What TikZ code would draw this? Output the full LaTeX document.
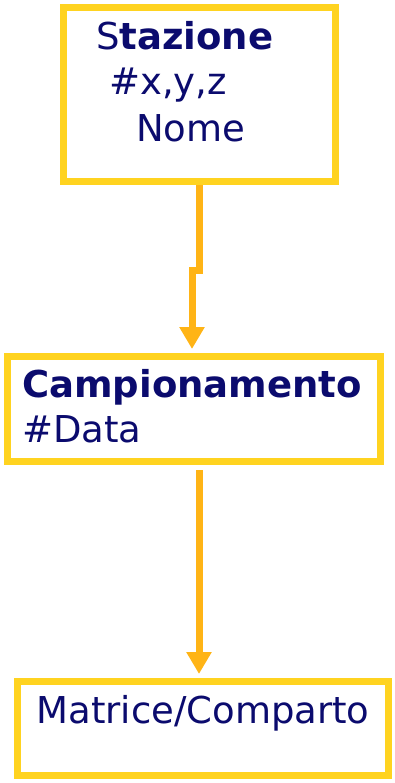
\documentclass[tikz,border=0pt]{standalone}
\usepackage{fontspec}
\setmainfont{DejaVu Sans}
\usetikzlibrary{arrows.meta}
\definecolor{boxyellow}{RGB}{255,211,32}
\definecolor{arroworange}{RGB}{255,180,22}
\definecolor{navy}{RGB}{11,11,110}
\tikzset{
  entity/.style={draw=boxyellow, line width=7pt, fill=white, inner sep=0pt, rectangle},
  label36/.style={text=navy, inner sep=0pt, font=\fontsize{37}{44}\selectfont},
  link/.style={draw=arroworange, line width=7pt, -{Triangle[length=22pt,width=24pt]}}
}
\begin{document}
\begin{tikzpicture}[x=1pt,y=-1pt]
\useasboundingbox (0,0) rectangle (394,783);
% boxes
\node[entity, minimum width=272pt, minimum height=174pt] (top) at (199,95) {};
\node[entity, minimum width=373pt, minimum height=105pt] (mid) at (193.5,408.5) {};
\node[entity, minimum width=371pt, minimum height=94pt] (bot) at (202.5,728) {};
% texts
\node[label36, anchor=base west] (t1) at (96,50) {S\textbf{tazione}};
\node[label36, anchor=base west] (t2) at (109,95) {\#x,y,z};
\node[label36, anchor=base west] (t3) at (136,142) {Nome};
\node[label36, anchor=base west] (m1) at (22,397) {\textbf{Campionamento}};
\node[label36, anchor=base west] (m2) at (22,442) {\#Data};
\node[label36, anchor=base] (b1) at (203,723) {Matrice/Comparto};
% connectors
\coordinate (j1) at (199,270);
\coordinate (j2) at (192,270);
\draw[link, shorten >=3.5pt] (top.south) -- (j1) -- (j2) -- (j2 |- mid.north);
\coordinate (c2s) at (199,470);
\draw[link, shorten >=3.5pt] (c2s) -- (c2s |- bot.north);
\end{tikzpicture}
\end{document}
